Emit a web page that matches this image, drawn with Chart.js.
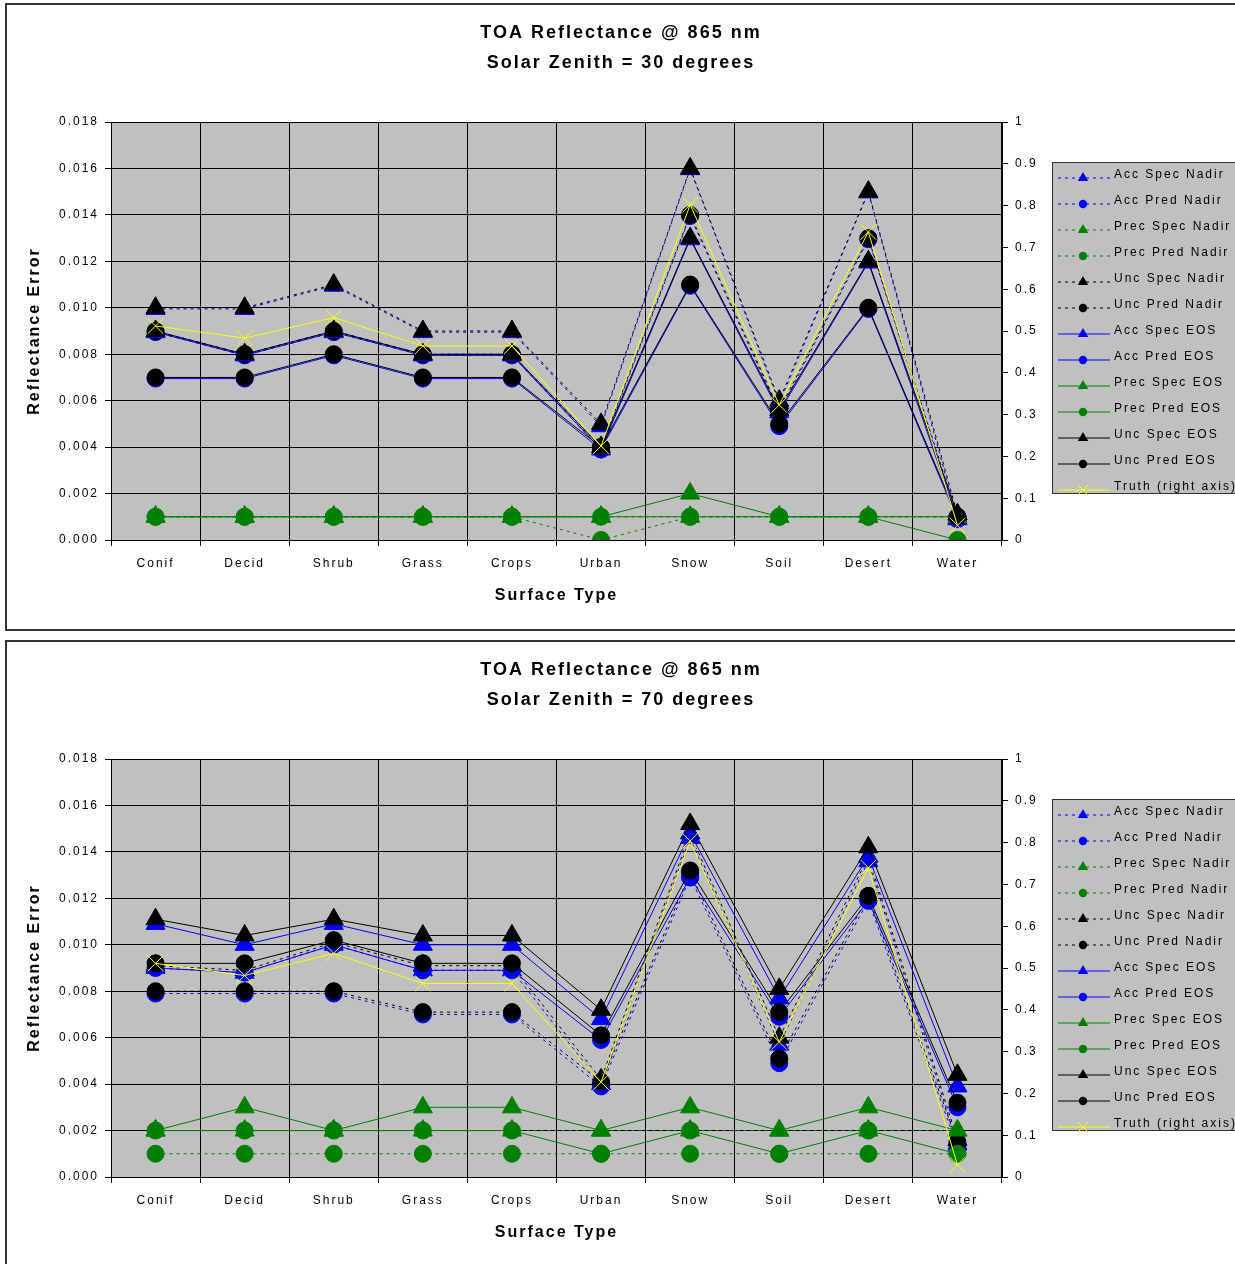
<!DOCTYPE html>
<html>
<head>
<meta charset="utf-8">
<script src="https://cdn.jsdelivr.net/npm/chart.js@4.4.0/dist/chart.umd.min.js"></script>
<style>
  html, body { margin: 0; padding: 0; background: #fff; overflow: hidden; }
  .box { position: absolute; left: 5px; width: 1240px; height: 624px; border: 2px solid #333; }
  #box1 { top: 3px; }
  #box2 { top: 640px; }
  canvas { position: absolute; left: 0; top: 0; }
</style>
</head>
<body>
<div class="box" id="box1"><canvas id="chart30" width="1228" height="624"></canvas></div>
<div class="box" id="box2"><canvas id="chart70" width="1228" height="624"></canvas></div>
<script>
const categories = ['Conif', 'Decid', 'Shrub', 'Grass', 'Crops', 'Urban', 'Snow', 'Soil', 'Desert', 'Water'];

// Solar zenith = 30 degrees
const accSpecNadir30  = [0.00995, 0.00995, 0.01095, 0.00895, 0.00895, 0.0049, 0.01597, 0.0059, 0.01497, 0.0009];
const accPredNadir30  = [0.00895, 0.00795, 0.00895, 0.00795, 0.00795, 0.0039, 0.01395, 0.0055, 0.01295, 0.0009];
const precSpecNadir30 = [0.001, 0.001, 0.001, 0.001, 0.001, 0.001, 0.001, 0.001, 0.001, 0.001];
const precPredNadir30 = [0.001, 0.001, 0.001, 0.001, 0.001, 0.0, 0.001, 0.001, 0.001, 0.001];
const uncSpecNadir30  = [0.010, 0.010, 0.011, 0.009, 0.009, 0.005, 0.016, 0.006, 0.015, 0.0011];
const uncPredNadir30  = [0.009, 0.008, 0.009, 0.008, 0.008, 0.004, 0.014, 0.0056, 0.013, 0.001];
const accSpecEOS30    = [0.00895, 0.00795, 0.00895, 0.00795, 0.00795, 0.0039, 0.01295, 0.0055, 0.01195, 0.0009];
const accPredEOS30    = [0.00695, 0.00695, 0.00795, 0.00695, 0.00695, 0.0039, 0.01095, 0.0049, 0.00995, 0.0009];
const precSpecEOS30   = [0.001, 0.001, 0.001, 0.001, 0.001, 0.001, 0.002, 0.001, 0.001, 0.001];
const precPredEOS30   = [0.001, 0.001, 0.001, 0.001, 0.001, 0.001, 0.001, 0.001, 0.001, 0.0];
const uncSpecEOS30    = [0.009, 0.008, 0.009, 0.008, 0.008, 0.004, 0.013, 0.0056, 0.012, 0.0011];
const uncPredEOS30    = [0.007, 0.007, 0.008, 0.007, 0.007, 0.004, 0.011, 0.005, 0.010, 0.001];
const truth30         = [0.512, 0.483, 0.532, 0.464, 0.464, 0.225, 0.802, 0.323, 0.737, 0.035];

// Solar zenith = 70 degrees
const accSpecNadir70  = [0.0090, 0.0088, 0.0100, 0.0089, 0.0089, 0.0040, 0.0146, 0.0057, 0.0136, 0.0014];
const accPredNadir70  = [0.0079, 0.0079, 0.0079, 0.0070, 0.0070, 0.0039, 0.0129, 0.0049, 0.0119, 0.0013];
const precSpecNadir70 = [0.002, 0.002, 0.002, 0.002, 0.002, 0.002, 0.002, 0.002, 0.002, 0.002];
const precPredNadir70 = [0.001, 0.001, 0.001, 0.001, 0.001, 0.001, 0.001, 0.001, 0.001, 0.001];
const uncSpecNadir70  = [0.0091, 0.0089, 0.0101, 0.0091, 0.0091, 0.0042, 0.0148, 0.0060, 0.0138, 0.0016];
const uncPredNadir70  = [0.0080, 0.0080, 0.0080, 0.0071, 0.0071, 0.0041, 0.0131, 0.0051, 0.0121, 0.0015];
const accSpecEOS70    = [0.0109, 0.0100, 0.0109, 0.0100, 0.0100, 0.0068, 0.0148, 0.0077, 0.0138, 0.0039];
const accPredEOS70    = [0.0090, 0.0088, 0.0100, 0.0089, 0.0089, 0.0059, 0.0129, 0.0069, 0.0119, 0.0030];
const precSpecEOS70   = [0.002, 0.003, 0.002, 0.003, 0.003, 0.002, 0.003, 0.002, 0.003, 0.002];
const precPredEOS70   = [0.002, 0.002, 0.002, 0.002, 0.002, 0.001, 0.002, 0.001, 0.002, 0.001];
const uncSpecEOS70    = [0.0111, 0.0104, 0.0111, 0.0104, 0.0104, 0.0072, 0.0152, 0.0081, 0.0142, 0.0044];
const uncPredEOS70    = [0.0092, 0.0092, 0.0102, 0.0092, 0.0092, 0.0061, 0.0132, 0.0071, 0.0121, 0.0032];
const truth70         = [0.511, 0.482, 0.535, 0.463, 0.463, 0.227, 0.804, 0.323, 0.740, 0.029];

const FONT = "'Liberation Sans', Arial, sans-serif";
const dotted = [3, 4];

const seriesStyle = [
  { label: 'Acc Spec Nadir', color: '#0000ff', point: 'triangle', dash: dotted },
  { label: 'Acc Pred Nadir', color: '#0000ff', point: 'circle', dash: dotted },
  { label: 'Prec Spec Nadir', color: '#008000', point: 'triangle', dash: dotted },
  { label: 'Prec Pred Nadir', color: '#008000', point: 'circle', dash: dotted },
  { label: 'Unc Spec Nadir', color: '#000000', point: 'triangle', dash: dotted },
  { label: 'Unc Pred Nadir', color: '#000000', point: 'circle', dash: dotted },
  { label: 'Acc Spec EOS', color: '#0000ff', point: 'triangle', dash: [] },
  { label: 'Acc Pred EOS', color: '#0000ff', point: 'circle', dash: [] },
  { label: 'Prec Spec EOS', color: '#008000', point: 'triangle', dash: [] },
  { label: 'Prec Pred EOS', color: '#008000', point: 'circle', dash: [] },
  { label: 'Unc Spec EOS', color: '#000000', point: 'triangle', dash: [] },
  { label: 'Unc Pred EOS', color: '#000000', point: 'circle', dash: [] },
  { label: 'Truth (right axis)', color: '#ffff00', point: 'crossRot', dash: [], right: true }
];
const markerSize = { triangle: 11, circle: 8.5, crossRot: 11 };
const legendMarkerSize = { triangle: 6, circle: 4.2, crossRot: 7 };

// spaced-out lettering like the original sheet
const spacing = {
  id: 'spacing',
  beforeUpdate(chart) { chart.ctx.letterSpacing = '2px'; },
  beforeDraw(chart) { chart.ctx.letterSpacing = '2px'; }
};

const plotBg = {
  id: 'plotBg',
  beforeDraw(chart) {
    const { ctx, chartArea: a } = chart;
    ctx.save();
    ctx.fillStyle = '#c0c0c0';
    ctx.fillRect(a.left, a.top, a.width, a.height);
    ctx.restore();
  }
};

function drawMarker(ctx, style, x, y, r, color) {
  ctx.save();
  ctx.setLineDash([]);
  ctx.fillStyle = color;
  ctx.strokeStyle = color;
  ctx.lineWidth = 1;
  ctx.beginPath();
  if (style === 'circle') {
    ctx.arc(x, y, r, 0, Math.PI * 2);
    ctx.fill();
  } else if (style === 'triangle') {
    ctx.moveTo(x, y - r);
    ctx.lineTo(x + r * 0.866, y + r * 0.5);
    ctx.lineTo(x - r * 0.866, y + r * 0.5);
    ctx.closePath();
    ctx.fill();
  } else {
    const d = r * 0.707;
    ctx.moveTo(x - d, y - d); ctx.lineTo(x + d, y + d);
    ctx.moveTo(x + d, y - d); ctx.lineTo(x - d, y + d);
    ctx.stroke();
  }
  ctx.restore();
}

const sideLegend = {
  id: 'sideLegend',
  afterDraw(chart) {
    const { ctx, chartArea: a } = chart;
    const x0 = a.right + 50, y0 = a.top + 40;
    ctx.save();
    ctx.fillStyle = '#c0c0c0';
    ctx.fillRect(x0, y0, 200, 331);
    ctx.strokeStyle = '#333';
    ctx.lineWidth = 1;
    ctx.strokeRect(x0 + 0.5, y0 + 0.5, 200, 331);
    ctx.font = '12px ' + FONT;
    ctx.textBaseline = 'middle';
    ctx.textAlign = 'left';
    ctx.letterSpacing = '2px';
    chart.data.datasets.forEach((ds, i) => {
      const ty = a.top + 53 + 26 * i;
      const ly = ty + 3;
      ctx.strokeStyle = ds.borderColor;
      ctx.setLineDash(ds.borderDash);
      ctx.beginPath();
      ctx.moveTo(x0 + 6, ly);
      ctx.lineTo(x0 + 58, ly);
      ctx.stroke();
      drawMarker(ctx, ds.pointStyle, x0 + 31, ly, legendMarkerSize[ds.pointStyle], ds.borderColor);
      ctx.fillStyle = '#000';
      ctx.fillText(ds.label, x0 + 62, ty);
    });
    ctx.restore();
  }
};

function makeChart(id, zenith, seriesData) {
  return new Chart(document.getElementById(id), {
    type: 'line',
    data: {
      labels: categories,
      datasets: seriesStyle.map((s, i) => ({
        label: s.label,
        data: seriesData[i],
        yAxisID: s.right ? 'y1' : 'y',
        borderColor: s.color,
        backgroundColor: s.color,
        borderWidth: 1,
        borderDash: s.dash,
        pointStyle: s.point,
        pointRadius: markerSize[s.point],
        pointBackgroundColor: s.color,
        pointBorderColor: s.color,
        pointBorderWidth: 1,
        tension: 0,
        fill: false,
        order: seriesStyle.length - i
      }))
    },
    options: {
      responsive: false,
      animation: false,
      events: [],
      layout: { padding: 0 },
      plugins: {
        legend: { display: false },
        tooltip: { enabled: false },
        title: {
          display: true,
          text: ['TOA Reflectance @ 865 nm', 'Solar Zenith = ' + zenith + ' degrees'],
          color: '#000',
          font: { family: FONT, size: 18, weight: 'bold', lineHeight: 30 / 18 },
          padding: { top: 13, bottom: 44 }
        }
      },
      scales: {
        x: {
          type: 'category',
          offset: true,
          grid: { offset: true, color: '#000', lineWidth: 1, drawTicks: true, tickLength: 6 },
          border: { color: '#000' },
          ticks: { color: '#000', font: { family: FONT, size: 12 }, padding: 10, maxRotation: 0, autoSkip: false },
          title: { display: true, text: 'Surface Type', color: '#000', font: { family: FONT, size: 16, weight: 'bold' }, padding: { top: 0, bottom: 23.4 } },
          afterFit: s => { s.height = 89; }
        },
        y: {
          position: 'left',
          min: 0,
          max: 0.018,
          grid: { color: '#000', lineWidth: 1, drawTicks: true, tickLength: 6 },
          border: { color: '#000' },
          ticks: { stepSize: 0.002, color: '#000', font: { family: FONT, size: 12 }, padding: 6, callback: v => v.toFixed(3) },
          title: { display: true, text: 'Reflectance Error', color: '#000', font: { family: FONT, size: 16, weight: 'bold' }, padding: { top: 18.4, bottom: 0 } },
          afterFit: s => { s.width = 104; }
        },
        y1: {
          position: 'right',
          min: 0,
          max: 1,
          grid: { drawOnChartArea: false, color: '#000', drawTicks: true, tickLength: 6 },
          border: { color: '#000' },
          ticks: { stepSize: 0.1, color: '#000', font: { family: FONT, size: 12 }, padding: 7, callback: v => String(+v.toFixed(1)) },
          // the right axis box also holds the space used by the side legend
          afterFit: s => { s.width = 233; }
        }
      }
    },
    plugins: [spacing, plotBg, sideLegend]
  });
}

makeChart('chart30', 30, [
  accSpecNadir30, accPredNadir30, precSpecNadir30, precPredNadir30, uncSpecNadir30, uncPredNadir30,
  accSpecEOS30, accPredEOS30, precSpecEOS30, precPredEOS30, uncSpecEOS30, uncPredEOS30, truth30
]);
makeChart('chart70', 70, [
  accSpecNadir70, accPredNadir70, precSpecNadir70, precPredNadir70, uncSpecNadir70, uncPredNadir70,
  accSpecEOS70, accPredEOS70, precSpecEOS70, precPredEOS70, uncSpecEOS70, uncPredEOS70, truth70
]);
</script>
</body>
</html>
